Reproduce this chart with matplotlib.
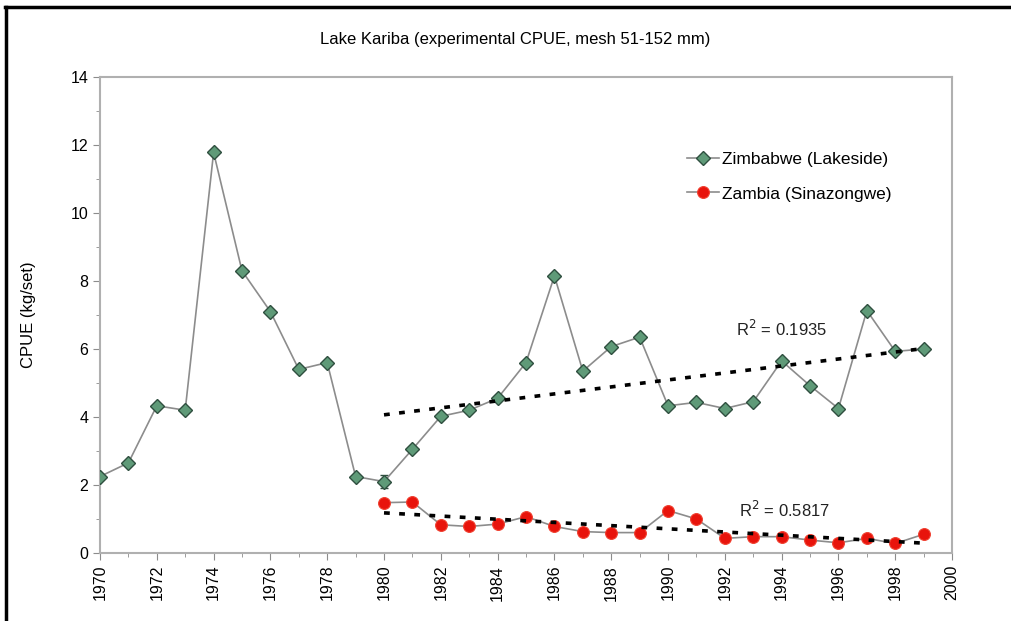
import numpy as np
import matplotlib.pyplot as plt
from matplotlib.lines import Line2D

plt.rcParams['font.family'] = ['Liberation Sans', 'DejaVu Sans']

# data
years_zim = list(range(1970, 2000))
cpue_zim = [2.25, 2.65, 4.33, 4.2, 11.78, 8.3, 7.1, 5.4, 5.6, 2.25,
            2.1, 3.05, 4.02, 4.2, 4.55, 5.6, 8.15, 5.35, 6.07, 6.35,
            4.33, 4.43, 4.25, 4.45, 5.65, 4.92, 4.25, 7.13, 5.93, 6.0]
years_zam = list(range(1980, 2000))
cpue_zam = [1.48, 1.5, 0.83, 0.78, 0.85, 1.07, 0.78, 0.63, 0.6, 0.6,
            1.25, 1.0, 0.43, 0.48, 0.48, 0.38, 0.3, 0.43, 0.28, 0.55]
r2_zim = 0.1935
r2_zam = 0.5817

fig = plt.figure(figsize=(10.11, 6.21), dpi=100)
ax = fig.add_axes([0.0989, 0.1095, 0.8428, 0.7665])

grey = '#8c8c8c'
zim_line, = ax.plot(years_zim, cpue_zim, color=grey, lw=1.2, marker='D', ms=7,
                    mfc='#5f9a78', mec='#2f4f3f', mew=1.0, zorder=3,
                    label='Zimbabwe (Lakeside)')
ax.errorbar([1980], [cpue_zim[10]], yerr=0.2, color='#2f4f3f', capsize=3,
            lw=1, zorder=2)
zam_line, = ax.plot(years_zam, cpue_zam, color=grey, lw=1.2, marker='o', ms=8.5,
                    mfc='#e8140c', mec='#f04030', mew=0.8, zorder=3,
                    label='Zambia (Sinazongwe)')

# linear trends for 1980-1999
x_fit = np.array(years_zam)
zim_fit = np.polyfit(x_fit, cpue_zim[10:], 1)
zam_fit = np.polyfit(x_fit, cpue_zam, 1)
trend_style = dict(color='black', lw=2.6, linestyle=(0, (1.6, 2.6)), zorder=4)
ax.plot(x_fit, np.polyval(zim_fit, x_fit), **trend_style)
ax.plot(x_fit, np.polyval(zam_fit, x_fit), **trend_style)

ax.text(1992.4, 6.6, 'R$^2$ = %.4f' % r2_zim, fontsize=12, color='#222222',
        va='center')
ax.text(1992.5, 1.26, 'R$^2$ = %.4f' % r2_zam, fontsize=12, color='#222222',
        va='center')

ax.set_xlim(1970, 2000)
ax.set_ylim(0, 14)
ax.set_xticks(range(1970, 2001, 2))
ax.set_xticks(range(1970, 2001), minor=True)
ax.set_xticklabels([str(y) for y in range(1970, 2001, 2)], rotation=90)
ax.set_yticks(range(0, 15, 2))
ax.set_yticks(range(0, 15), minor=True)
ax.tick_params(axis='both', which='both', color=grey, labelsize=11.5,
               direction='out')
ax.tick_params(axis='both', which='major', length=5)
ax.tick_params(axis='both', which='minor', length=3)
for s in ax.spines.values():
    s.set_color('#b0b0b0')
    s.set_linewidth(1.5)

ax.set_ylabel('CPUE (kg/set)', fontsize=12, labelpad=25)

leg = ax.legend(handles=[zim_line, zam_line], loc='upper left',
                bbox_to_anchor=(0.67, 0.875), frameon=False, fontsize=12.5,
                labelspacing=1.1, handlelength=1.9, handletextpad=0.15)

fig.text(0.51, 0.936, 'Lake Kariba (experimental CPUE, mesh 51-152 mm)',
         ha='center', va='center', fontsize=12)

# outer black frame (top and left)
fig.add_artist(Line2D([0.005, 1.0], [0.988, 0.988], color='black', lw=2.5,
                      transform=fig.transFigure))
fig.add_artist(Line2D([0.006, 0.006], [0.0, 0.988], color='black', lw=2.5,
                      transform=fig.transFigure))

fig.savefig('out.png', dpi=100)
